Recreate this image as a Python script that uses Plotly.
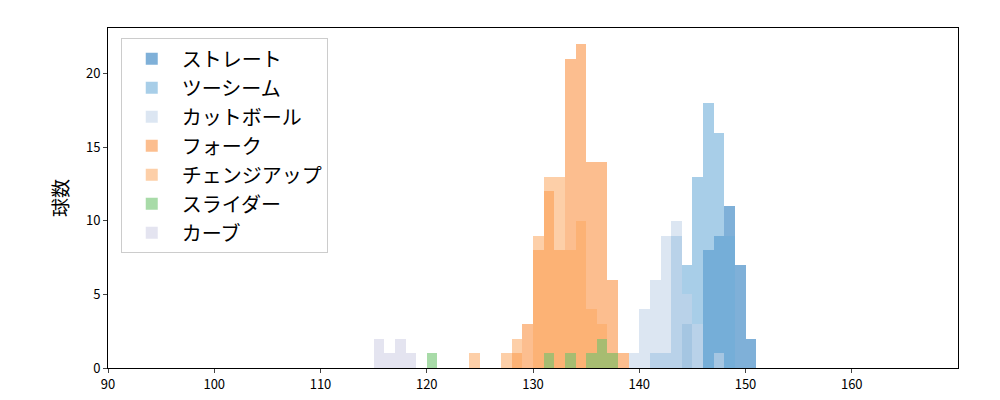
import plotly.graph_objects as go

names = ["ストレート", "ツーシーム", "カットボール", "フォーク", "チェンジアップ", "スライダー", "カーブ"]
colors = ["rgba(42,123,190,0.6)", "rgba(110,173,217,0.6)", "rgba(197,213,233,0.6)",
          "rgba(250,130,40,0.52)", "rgba(252,167,97,0.55)", "rgba(110,195,110,0.6)", "rgba(210,210,230,0.6)"]

straight_bins = [144, 146, 147, 148, 149, 150]
straight_counts = [3, 8, 9, 11, 7, 2]
twoseam_bins = [141, 142, 143, 144, 145, 146, 147, 148]
twoseam_counts = [1, 1, 9, 7, 13, 18, 16, 9]
cut_bins = [139, 140, 141, 142, 143, 144, 145, 147]
cut_counts = [1, 4, 6, 9, 10, 5, 3, 1]
fork_bins = [128, 129, 130, 131, 132, 133, 134, 135, 136, 137, 138]
fork_counts = [1, 3, 8, 12, 8, 21, 22, 14, 14, 6, 1]
change_bins = [124, 127, 128, 130, 131, 132, 133, 134, 135, 136, 137]
change_counts = [1, 1, 2, 9, 13, 13, 8, 10, 4, 3, 1]
slider_bins = [120, 131, 133, 135, 136, 137]
slider_counts = [1, 1, 1, 1, 2, 1]
curve_bins = [115, 116, 117, 118]
curve_counts = [2, 1, 2, 1]

data = [(straight_bins, straight_counts), (twoseam_bins, twoseam_counts), (cut_bins, cut_counts),
        (fork_bins, fork_counts), (change_bins, change_counts), (slider_bins, slider_counts),
        (curve_bins, curve_counts)]

fig = go.Figure()
for name, col, (b, c) in zip(names, colors, data):
    fig.add_trace(go.Bar(x=[v + 0.5 for v in b], y=c, width=1, name=name,
                         marker=dict(color=col, line=dict(width=0))))

font = "Noto Sans CJK JP"
fig.update_layout(
    width=1000, height=400, barmode="overlay", bargap=0,
    plot_bgcolor="white", paper_bgcolor="white",
    margin=dict(l=100, r=50, t=20, b=40),
    font=dict(family=font, size=13, color="black"),
    legend=dict(x=0.015, y=0.97, xanchor="left", yanchor="top", bordercolor="#cccccc",
                borderwidth=1, font=dict(size=20, family=font), bgcolor="white",
                itemwidth=50),
    xaxis=dict(range=[90, 170], tickvals=[90, 100, 110, 120, 130, 140, 150, 160],
               showgrid=False, showline=True, linecolor="black", mirror=True,
               ticks="outside", ticklen=4, zeroline=False, automargin=False),
    yaxis=dict(range=[0, 23.1], tickvals=[0, 5, 10, 15, 20], showgrid=False,
               showline=True, linecolor="black", mirror=True, ticks="outside", ticklen=4,
               zeroline=False, automargin=False,
               title=dict(text="球数", font=dict(size=19, family=font), standoff=12)),
)
fig.write_html("out.html")
